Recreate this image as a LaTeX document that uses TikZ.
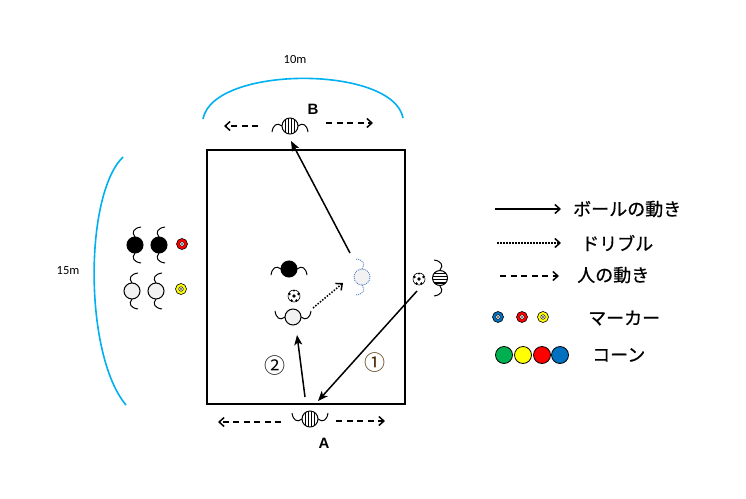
\documentclass[tikz,border=0pt]{standalone}
\usepackage{fontspec}
\newfontfamily\jpfont{Noto Sans CJK JP}[FakeBold=0.6]
\newfontfamily\numfont{Noto Sans CJK JP}
\newfontfamily\calfont{Carlito}
\newfontfamily\arialfont{Liberation Sans}
\usetikzlibrary{arrows.meta,calc}
\definecolor{dimcyan}{RGB}{0,176,240}
\definecolor{dotblue}{RGB}{84,130,190}
\definecolor{cgreen}{RGB}{0,176,80}
\definecolor{cyellow}{RGB}{255,255,0}
\definecolor{cred}{RGB}{255,0,0}
\definecolor{cblue}{RGB}{0,112,192}
\definecolor{plgray}{RGB}{242,242,242}
\tikzset{
  field/.style={line width=2pt},
  dim/.style={draw=dimcyan,line width=1.6pt},
  lbl/.style={font=\calfont\fontsize{12.5}{14}\selectfont,inner sep=0pt},
  ab/.style={font=\arialfont\bfseries\fontsize{15}{17}\selectfont,inner sep=0pt},
  jp/.style={font=\jpfont\fontsize{18}{20}\selectfont,inner sep=0pt,anchor=west},
  num/.style={font=\numfont\fontsize{21}{23}\selectfont,inner sep=0pt},
  armline/.style={line width=1pt},
  pl/.style={circle,draw,line width=1pt,inner sep=0pt,minimum size=16pt,fill=plgray},
  plk/.style={pl,fill=black},
  vstr/.style={fill=white,path picture={\foreach \i in {-4.5,-1.5,1.5,4.5}{\draw[black,line width=0.8pt] ([xshift=\i pt]path picture bounding box.north) -- ([xshift=\i pt]path picture bounding box.south);}}},
  hstr/.style={fill=white,path picture={\foreach \i in {-4.8,-1.6,1.6,4.8}{\draw[black,line width=1.4pt] ([yshift=\i pt]path picture bounding box.west) -- ([yshift=\i pt]path picture bounding box.east);}}},
  ball/.style={circle,draw,line width=0.6pt,fill=white,minimum size=12pt,inner sep=0pt,
    path picture={\fill[black] (path picture bounding box.center) circle (1.9pt);
      \fill[black] ([shift={(-4.5,-2)}]path picture bounding box.center) circle (1.4pt);
      \fill[black] ([shift={(4.5,-2)}]path picture bounding box.center) circle (1.4pt);
      \fill[black] ([shift={(-2.5,4.5)}]path picture bounding box.center) circle (1.4pt);
      \fill[black] ([shift={(2.5,4.5)}]path picture bounding box.center) circle (1.4pt);
      \fill[black] ([shift={(0,-5.5)}]path picture bounding box.center) circle (1.2pt);}},
  marker/.style={circle,draw,line width=0.6pt,minimum size=11pt,inner sep=0pt,
    path picture={\draw[black,fill=white,line width=0.5pt] (path picture bounding box.center) circle (2.3pt);
      \fill[black] (path picture bounding box.center) circle (0.8pt);}},
  cone/.style={circle,draw,line width=0.8pt,minimum size=17pt,inner sep=0pt},
  ballmove/.style={line width=1.5pt,-{Stealth[length=10pt,width=8pt,inset=2.5pt]}},
  legsolid/.style={line width=1.5pt,-{Straight Barb[length=5pt,width=9pt,line width=1.5pt]}},
  dribble/.style={line width=1.5pt,dash pattern=on 1.5pt off 1.5pt,-{Straight Barb[length=5pt,width=9pt,line width=1.5pt]}},
  runmove/.style={line width=1.5pt,dash pattern=on 6pt off 4.5pt,-{Straight Barb[length=5pt,width=9pt,line width=1.5pt]}},
  armsdn/.pic={\draw[armline] (-8,0) .. controls (-13,-4) and (-17,-1) .. (-18,6);
    \draw[armline] (8,0) .. controls (13,-4) and (17,-1) .. (18,6);},
  armsup/.pic={\draw[armline] (-8,0) .. controls (-13,4) and (-17,1) .. (-18,-6);
    \draw[armline] (8,0) .. controls (13,4) and (17,1) .. (18,-6);},
  armsl/.pic={\draw[armline] (0,-8) .. controls (4,-13) and (1,-17) .. (-6,-18);
    \draw[armline] (0,8) .. controls (4,13) and (1,17) .. (-6,18);},
  armsr/.pic={\draw[armline] (0,-8) .. controls (-4,-13) and (-1,-17) .. (6,-18);
    \draw[armline] (0,8) .. controls (-4,13) and (-1,17) .. (6,18);},
}
\begin{document}
\begin{tikzpicture}[x=1pt,y=-1pt]
\path[use as bounding box] (0,0) rectangle (746,498);
% field
\draw[field] (207,150) rectangle (405,404);
% dimensions
\draw[dim] (203,119) .. controls (213,65) and (393,65) .. (403,118);
\draw[dim] (123,157) .. controls (84,195) and (84,355) .. (126,405);
\node[lbl] (l10) at (295,59) {10m};
\node[lbl] (l15) at (68,271) {15m};
\node[ab] (lB) at (313,109) {B};
\node[ab] (lA) at (324,443) {A};
% player B
\node[pl,vstr] (pB) at (290,126) {};
\pic at (pB) {armsdn};
\coordinate (bLs) at (258,126); \coordinate (bLe) at (224,126);
\coordinate (bRs) at (326,123); \coordinate (bRe) at (373,123);
\draw[runmove] (bLs) -- (bLe);
\draw[runmove] (bRs) -- (bRe);
% player A
\node[pl,vstr] (pA) at (310,419) {};
\pic at (pA) {armsup};
\coordinate (aLs) at (281,422); \coordinate (aLe) at (218,422);
\coordinate (aRs) at (336,421); \coordinate (aRe) at (385,421);
\draw[runmove] (aLs) -- (aLe);
\draw[runmove] (aRs) -- (aRe);
% field players
\node[plk] (pK) at (289,269) {};
\pic at (pK) {armsdn};
\node[ball] (b1) at (294,296) {};
\node[pl] (pW) at (293,317) {};
\pic at (pW) {armsup};
\node[pl,draw=dotblue,line width=0.9pt,dash pattern=on 1pt off 1pt] (pD) at (362,277) {};
\begin{scope}[dotblue,armline/.append style={line width=0.9pt,dash pattern=on 1pt off 1pt}]
\pic at (pD) {armsl};
\end{scope}
\node[pl,hstr,minimum size=15pt] (pS) at (440,278) {};
\pic at (pS) {armsl};
\node[ball] (b2) at (419,279) {};
% left waiting players
\node[plk] (k1) at (135,245) {};
\node[plk] (k2) at (159,245) {};
\pic at (k1) {armsr};
\pic at (k2) {armsr};
\node[pl] (w1) at (132,291) {};
\node[pl] (w2) at (156,291) {};
\pic at (w1) {armsr};
\pic at (w2) {armsr};
\node[marker,fill=cred] (m1) at (182,244) {};
\node[marker,fill=cyellow] (m2) at (181,289) {};
% moves
\coordinate (s1) at (417,291); \coordinate (e1) at (318,401);
\coordinate (s2) at (305,397); \coordinate (e2) at (297,335);
\coordinate (s3) at (350,253); \coordinate (e3) at (291,141);
\coordinate (d1) at (313,308); \coordinate (d2) at (343,283);
\draw[ballmove] (s1) -- (e1);
\draw[ballmove] (s2) -- (e2);
\draw[ballmove] (s3) -- (e3);
\draw[dribble] (d1) -- (d2);
\node[num] (n2) at (275,366) {②};
\node[num,text=black!70!orange] (n1) at (375,363) {①};
% legend
\coordinate (g1s) at (495,209); \coordinate (g1e) at (561,209);
\coordinate (g2s) at (497,243); \coordinate (g2e) at (561,243);
\coordinate (g3s) at (500,276); \coordinate (g3e) at (559,276);
\draw[legsolid] (g1s) -- (g1e);
\draw[dribble] (g2s) -- (g2e);
\draw[runmove] (g3s) -- (g3e);
\node[jp] (t1) at (573,209) {ボールの動き};
\node[jp] (t2) at (581,243) {ドリブル};
\node[jp] (t3) at (577,275) {人の動き};
\node[marker,fill=cblue] (gm1) at (498,317) {};
\node[marker,fill=cred] (gm2) at (522,317) {};
\node[marker,fill=cyellow] (gm3) at (543,317) {};
\node[jp] (t4) at (588,318) {マーカー};
\node[cone,fill=cgreen] (c1) at (504,355) {};
\node[cone,fill=cyellow] (c2) at (523,355) {};
\node[cone,fill=cred] (c3) at (542,355) {};
\node[cone,fill=cblue] (c4) at (560,355) {};
\node[jp] (t5) at (592,355) {コーン};
\end{tikzpicture}
\end{document}
